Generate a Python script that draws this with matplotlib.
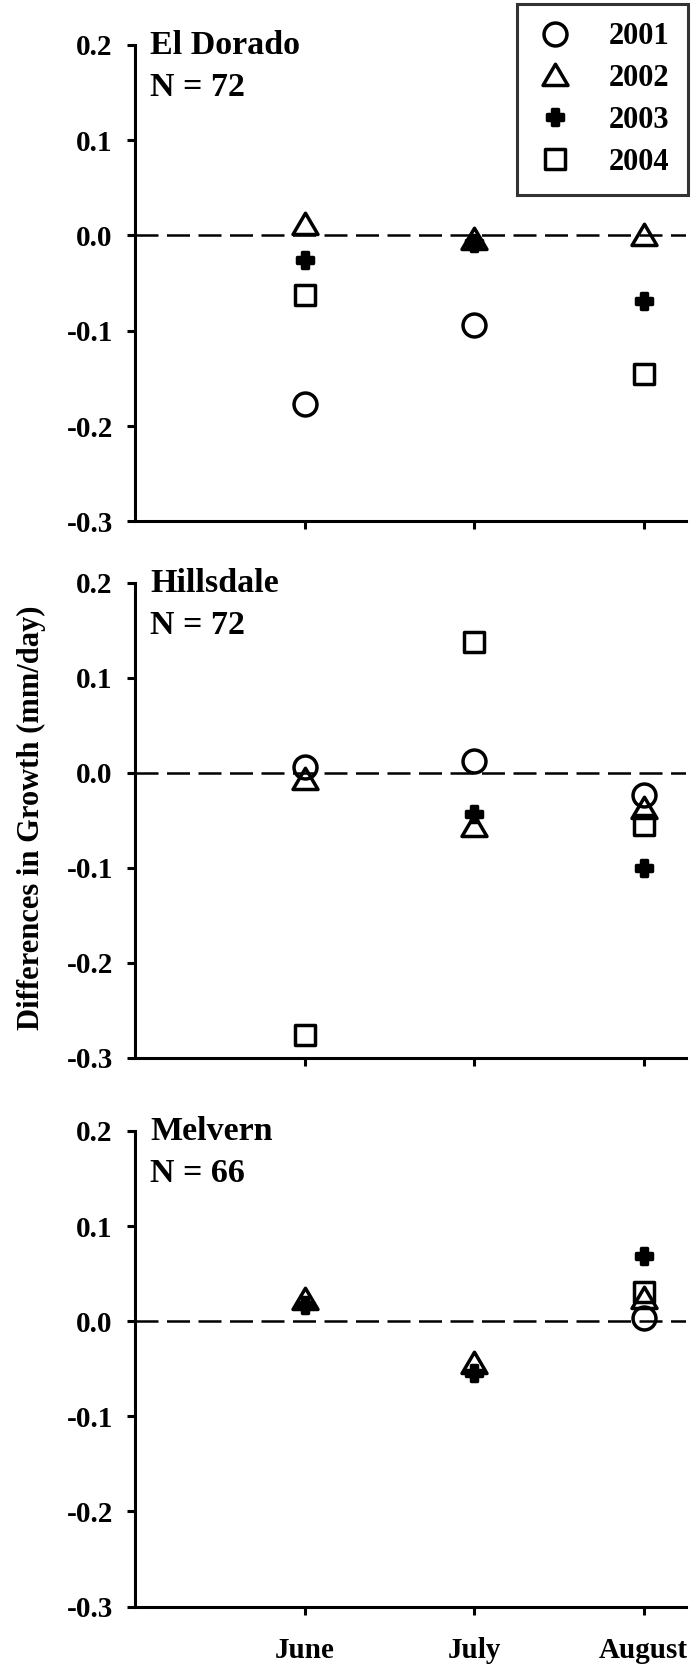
import numpy as np
import matplotlib
matplotlib.use('Agg')
import matplotlib.pyplot as plt
from matplotlib.markers import MarkerStyle
from matplotlib.path import Path

months = ['June', 'July', 'August']
years = ['2001', '2002', '2003', '2004']
sites = ['El Dorado', 'Hillsdale', 'Melvern']
sample_n = [72, 72, 66]

# differences in growth (mm/day); rows = years, columns = months
el_dorado = [[-0.177, -0.094, np.nan],
             [0.012, -0.004, 0.000],
             [-0.026, -0.008, -0.069],
             [-0.063, np.nan, -0.145]]
hillsdale = [[0.006, 0.013, -0.023],
             [-0.007, -0.056, -0.037],
             [np.nan, -0.043, -0.100],
             [-0.276, 0.138, -0.055]]
melvern = [[np.nan, np.nan, 0.003],
           [0.023, -0.044, 0.024],
           [0.017, -0.054, 0.068],
           [np.nan, np.nan, 0.031]]
site_data = [el_dorado, hillsdale, melvern]

yticks = [0.2, 0.1, 0.0, -0.1, -0.2, -0.3]

plt.rcParams['font.family'] = ['Liberation Serif', 'DejaVu Serif']
plt.rcParams['font.weight'] = 'bold'
plt.rcParams['axes.unicode_minus'] = False

tri = Path([(-1, -0.8), (1, -0.8), (0, 0.9), (-1, -0.8)],
           [Path.MOVETO, Path.LINETO, Path.LINETO, Path.CLOSEPOLY])
styles = [
    dict(marker=MarkerStyle('o', joinstyle='round'), ms=16.5, mfc='none', mew=2.5),
    dict(marker=MarkerStyle(tri, joinstyle='round'), ms=18, mfc='none', mew=2.5),
    dict(marker=MarkerStyle('P', joinstyle='round'), ms=11.5, mfc='black', mew=2.5),
    dict(marker=MarkerStyle('s', joinstyle='round'), ms=14, mfc='none', mew=2.5),
]

fig = plt.figure(figsize=(6.96, 16.69), dpi=100)
boxes = [(0.194, 0.6876, 0.7917, 0.2856),
         (0.194, 0.3663, 0.7917, 0.2844),
         (0.194, 0.0374, 0.7917, 0.2850)]

x = np.arange(1, len(months) + 1)
axes = []
for i, (site, n, data) in enumerate(zip(sites, sample_n, site_data)):
    ax = fig.add_axes(boxes[i])
    axes.append(ax)
    ax.axhline(0, color='black', lw=1.8, ls=(0, (9.2, 3.4)), zorder=1)
    for yr, vals, st in zip(years, data, styles):
        ax.plot(x, vals, ls='none', color='black', mec='black', label=yr,
                zorder=3, **st)
    ax.set_xlim(0, 3.25)
    ax.set_ylim(-0.3, 0.2)
    ax.set_yticks(yticks)
    ax.set_yticklabels([f'{v:.1f}' for v in yticks])
    ax.set_xticks(x)
    if i == 2:
        ax.set_xticklabels(months)
    else:
        ax.set_xticklabels([])
    for s in ['top', 'right']:
        ax.spines[s].set_visible(False)
    for s in ['left', 'bottom']:
        ax.spines[s].set_linewidth(2.2)
    ax.tick_params(axis='both', width=2.2, length=6, labelsize=21)
    ax.tick_params(axis='y', pad=10)
    ax.tick_params(axis='x', pad=16)
    ax.text(0.027, 0.981, site, transform=ax.transAxes, va='baseline',
            ha='left', fontsize=24.5, fontweight='bold')
    ax.text(0.027, 0.893, f'N = {n}', transform=ax.transAxes, va='baseline',
            ha='left', fontsize=24.5, fontweight='bold')

fig.text(0.0445, 0.510, 'Differences in Growth (mm/day)', rotation=90,
         va='center', ha='center', fontsize=22, fontweight='bold')

leg = axes[0].legend(loc='upper right', bbox_to_anchor=(0.988, 0.9976),
                     bbox_transform=fig.transFigure, fontsize=22,
                     frameon=True, fancybox=False, borderpad=0.6,
                     labelspacing=0.42, handlelength=1.3, handletextpad=1.1,
                     borderaxespad=0)
leg.get_frame().set_edgecolor('black')
leg.get_frame().set_linewidth(2.2)

fig.savefig('out.png', dpi=100)
